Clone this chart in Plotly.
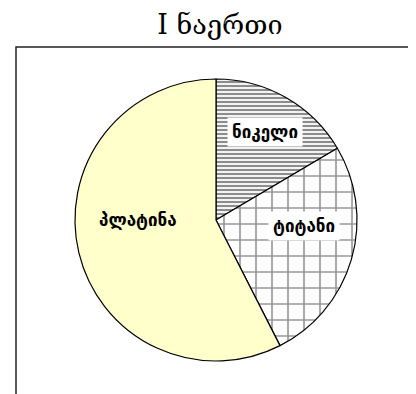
import plotly.graph_objects as go

W, H = 416, 394
OFF = 8  # page body margin offset

# data
labels = ["ნიკელი", "ტიტანი", "პლატინა"]
values = [16.5, 26.0, 57.5]
title_text = "I ნაერთი"

slice_colors = ["white", "white", "#FFFFCC"]
pattern_shapes = ["-", "+", ""]

def px(x):
    return (x - OFF) / W

def py(y):
    return 1 - (y - OFF) / H

fig = go.Figure()
fig.add_trace(go.Pie(
    labels=labels,
    values=values,
    sort=False,
    direction="clockwise",
    rotation=0,
    textinfo="none",
    hoverinfo="label+value+percent",
    showlegend=False,
    domain=dict(x=[px(75), px(357)], y=[py(361), py(79)]),
    marker=dict(
        colors=slice_colors,
        line=dict(color="black", width=1.2),
        pattern=dict(
            shape=pattern_shapes,
            fgcolor=["#8c8c8c", "#9a9a9a", "#909090"],
            bgcolor=slice_colors,
            size=[4, 16, 8],
            solidity=[0.55, 0.2, 0.3],
            fillmode="replace",
        ),
    ),
))

# frame (partly outside the view)
fig.add_shape(type="rect", xref="paper", yref="paper",
              x0=px(16), x1=px(450), y0=py(430), y1=py(47),
              line=dict(color="#222222", width=1.5), fillcolor="rgba(0,0,0,0)",
              layer="below")

label_font = dict(family="DejaVu Sans", size=17, color="black")
label_pos = [(265, 132), (304, 226), (138, 220)]
label_bg = ["white", "white", "rgba(0,0,0,0)"]
for lab, (x, y), bg in zip(labels, label_pos, label_bg):
    fig.add_annotation(x=px(x), y=py(y), xref="paper", yref="paper",
                       text="<b>" + lab + "</b>", showarrow=False,
                       font=label_font, bgcolor=bg, borderpad=4,
                       xanchor="center", yanchor="middle")

fig.update_layout(
    width=W, height=H,
    margin=dict(l=0, r=0, t=0, b=0),
    paper_bgcolor="white",
    plot_bgcolor="white",
    title=dict(text=title_text, x=px(220), y=py(25), xanchor="center", yanchor="middle",
               font=dict(family="DejaVu Serif", size=27, color="black")),
)

fig.write_html("out.html")
